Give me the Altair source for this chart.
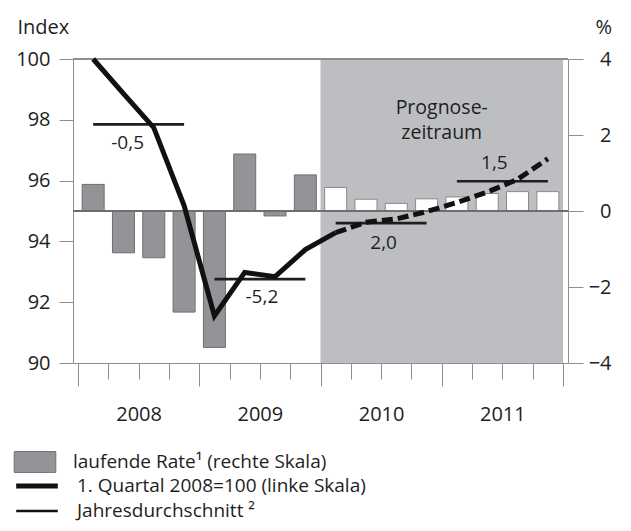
import altair as alt
import pandas as pd

# ---------------- data ----------------
years = ["2008", "2009", "2010", "2011"]
# quarterly rate in % (right scale), Q1 2008 ... Q4 2011
rate = [0.70, -1.10, -1.23, -2.66, -3.59, 1.50, -0.13, 0.95,
        0.62, 0.31, 0.20, 0.32, 0.37, 0.46, 0.51, 0.51]
# index, 1. Quartal 2008 = 100 (left scale)
index_values = [100.0, 98.86, 97.74, 95.18, 91.55, 92.98, 92.84, 93.73,
                94.29, 94.63, 94.74, 94.98, 95.28, 95.62, 96.04, 96.72]
# annual averages (drawn on the index scale) and their labels
annual_index = [97.85, 92.76, 94.60, 95.98]
annual_labels = ["-0,5", "-5,2", "2,0", "1,5"]
forecast_first_quarter = 8      # Q1 2010
n_quarters = 16

BAR_LABEL = "laufende Rate¹ (rechte Skala)"
FC_LABEL = "Prognose"
LINE_LABEL = "1. Quartal 2008=100 (linke Skala)"
AVG_LABEL = "Jahresdurchschnitt ²"
forecast_text = "Prognose-\nzeitraum"

# ---------------- styling ----------------
FONT = "Open Sans"
TXT = "#1e1e1e"
AXIS_GRAY = "#8e8e8e"
BAR_FILL = "#939498"
BAR_STROKE = "#6e6f72"
SHADE = "#bdbec1"
LEGEND_FS = 19

quarters = pd.DataFrame({
    "q": list(range(n_quarters)),
    "rate": rate,
    "index": index_values,
})
quarters["typ"] = [FC_LABEL if q >= forecast_first_quarter else BAR_LABEL for q in quarters["q"]]
quarters["series"] = LINE_LABEL

annual = pd.DataFrame({"k": list(range(len(years))), "avg": annual_index,
                       "label": annual_labels, "series": AVG_LABEL})
forecast = pd.DataFrame({"start": [forecast_first_quarter], "end": [n_quarters]})

year_expr = "[" + ",".join(f"'{y}'" for y in years) + "]"

x_scale = alt.Scale(domain=[0, n_quarters], nice=False, zero=False)
x_axis = alt.Axis(
    values=list(range(n_quarters + 1)),
    labelExpr=f"datum.value % 4 == 2 ? {year_expr}[floor(datum.value / 4)] : ''",
    tickSize={"condition": {"test": "datum.value % 4 == 0", "value": 23}, "value": 16},
    labelPadding=25, labelFontSize=20, labelFont=FONT, labelColor=TXT,
    domainColor=AXIS_GRAY, tickColor=AXIS_GRAY, grid=False, title=None,
    labelFlush=False, labelOverlap=False,
)

idx_scale = alt.Scale(domain=[90, 100], nice=False, zero=False)
idx_axis = alt.Axis(
    orient="left", values=[90, 92, 94, 96, 98, 100], tickSize=14, labelPadding=9,
    labelFontSize=20, labelFont=FONT, labelColor=TXT, grid=False,
    domainColor=AXIS_GRAY, tickColor=AXIS_GRAY,
    title="Index", titleAngle=0, titleAlign="left", titleBaseline="alphabetic",
    titleX=-56, titleY=-26, titleFont=FONT, titleFontSize=20, titleFontWeight="normal",
    titleColor=TXT,
)
pct_scale = alt.Scale(domain=[-4, 4], nice=False, zero=False)
pct_axis = alt.Axis(
    orient="right", values=[-4, -2, 0, 2, 4], tickSize=15, labelPadding=28,
    labelAlign="right", labelFontSize=20, labelFont=FONT, labelColor=TXT, grid=False,
    domainColor=AXIS_GRAY, tickColor=AXIS_GRAY,
    title="%", titleAngle=0, titleAlign="left", titleBaseline="alphabetic",
    titleX=27, titleY=-26, titleFont=FONT, titleFontSize=20, titleFontWeight="normal",
    titleColor=TXT,
)

# ---------------- right-scale group: shading, bars, zero line ----------------
shade = alt.Chart(forecast).mark_rect(color=SHADE).encode(
    x=alt.X("start:Q", scale=x_scale, axis=x_axis),
    x2="end:Q",
    y=alt.Y(datum=-4, scale=pct_scale, axis=pct_axis),
    y2=alt.Y2(datum=4),
)

bars = alt.Chart(quarters).transform_calculate(t="datum.q + 0.5").mark_bar(
    size=22, strokeWidth=1
).encode(
    x=alt.X("t:Q", scale=x_scale, axis=x_axis),
    y=alt.Y("rate:Q", scale=pct_scale, axis=pct_axis),
    y2=alt.Y2(datum=0),
    fill=alt.Fill(
        "typ:N",
        scale=alt.Scale(domain=[BAR_LABEL, FC_LABEL], range=[BAR_FILL, "#ffffff"]),
        legend=alt.Legend(
            values=[BAR_LABEL], orient="none", legendX=-49, legendY=392, title=None,
            symbolType="M-2,-1H2V1H-2Z", symbolSize=433, symbolStrokeColor=BAR_STROKE,
            symbolStrokeWidth=1, symbolOpacity=1, labelFont=FONT, labelFontSize=LEGEND_FS,
            labelColor=TXT, labelOffset=27, labelLimit=500, padding=0,
        ),
    ),
    stroke=alt.Stroke(
        "typ:N",
        scale=alt.Scale(domain=[BAR_LABEL, FC_LABEL], range=[BAR_STROKE, "#8a8a8a"]),
        legend=None,
    ),
)

zero_line = alt.Chart(quarters).mark_rule(color="#6f6f6f", strokeWidth=1.2).encode(
    y=alt.Y(datum=0, scale=pct_scale, axis=pct_axis),
)

top_line = alt.Chart(quarters).mark_rule(color=AXIS_GRAY, strokeWidth=1).encode(
    y=alt.Y(datum=4, scale=pct_scale, axis=pct_axis),
)

group_pct = alt.layer(shade, top_line, bars, zero_line)

# ---------------- left-scale group: annual rules, index line, labels ----------------
sw_scale = alt.Scale(domain=[LINE_LABEL, AVG_LABEL], range=[5, 2.6])
sw_legend = alt.Legend(
    orient="none", legendX=-49, legendY=414, title=None,
    symbolType="M-2,0H2", symbolSize=433, symbolStrokeColor="#111111",
    labelFont=FONT, labelFontSize=LEGEND_FS, labelColor=TXT, labelOffset=27,
    labelLimit=500, rowPadding=3, padding=0,
)

avg_rules = alt.Chart(annual).transform_calculate(
    x1="datum.k * 4 + 0.5", x2="datum.k * 4 + 3.5"
).mark_rule(color="#1e1e1e").encode(
    x=alt.X("x1:Q", scale=x_scale, axis=x_axis),
    x2="x2:Q",
    y=alt.Y("avg:Q", scale=idx_scale, axis=idx_axis),
    strokeWidth=alt.StrokeWidth("series:N", scale=sw_scale, legend=sw_legend),
)

line_base = alt.Chart(quarters).transform_calculate(t="datum.q + 0.5")
solid = line_base.transform_filter(
    f"datum.q <= {forecast_first_quarter}"
).mark_line(color="#111111", strokeJoin="miter", strokeCap="butt").encode(
    x=alt.X("t:Q", scale=x_scale, axis=x_axis),
    y=alt.Y("index:Q", scale=idx_scale, axis=idx_axis),
    strokeWidth=alt.StrokeWidth("series:N", scale=sw_scale, legend=sw_legend),
)
dashed = line_base.transform_filter(
    f"datum.q >= {forecast_first_quarter}"
).mark_line(color="#111111", strokeDash=[11, 5], strokeJoin="miter", strokeCap="butt").encode(
    x=alt.X("t:Q", scale=x_scale, axis=x_axis),
    y=alt.Y("index:Q", scale=idx_scale, axis=idx_axis),
    strokeWidth=alt.StrokeWidth("series:N", scale=sw_scale, legend=sw_legend),
)

label_offsets = [(-11, 25), (2, 23.5), (2.5, 25.5), (-8, -12.5)]
label_layers = []
for k, (dx, dy) in enumerate(label_offsets):
    label_layers.append(
        alt.Chart(annual).transform_filter(f"datum.k == {k}").transform_calculate(
            xc="datum.k * 4 + 2"
        ).mark_text(
            font=FONT, fontSize=19, color=TXT, align="center", baseline="alphabetic",
            dx=dx, dy=dy,
        ).encode(
            x=alt.X("xc:Q", scale=x_scale, axis=x_axis),
            y=alt.Y("avg:Q", scale=idx_scale, axis=idx_axis),
            text="label:N",
        )
    )

prognose = alt.Chart(forecast).transform_calculate(
    xc="(datum.start + datum.end) / 2"
).mark_text(
    text=forecast_text, lineBreak="\n", font=FONT, fontSize=19.5, color=TXT,
    align="center", baseline="middle", lineHeight=25,
).encode(
    x=alt.X("xc:Q", scale=x_scale, axis=x_axis),
    y=alt.value(49),
)

header_rule = alt.Chart(forecast).mark_rule(color="#9a9a9a", strokeWidth=1).encode(
    x=alt.value(-61), x2=alt.value(546), y=alt.value(-52),
)

group_idx = alt.layer(avg_rules, solid, dashed, *label_layers, prognose, header_rule)

chart = alt.layer(group_pct, group_idx).resolve_scale(y="independent").properties(
    width=495, height=304,
    autosize=alt.AutoSizeParams(type="none"),
    padding={"left": 65, "top": 51, "right": 55, "bottom": 160},
).configure_view(stroke=None).configure(background="white")

chart.save("out.html", embed_options={"renderer": "svg", "actions": False})
